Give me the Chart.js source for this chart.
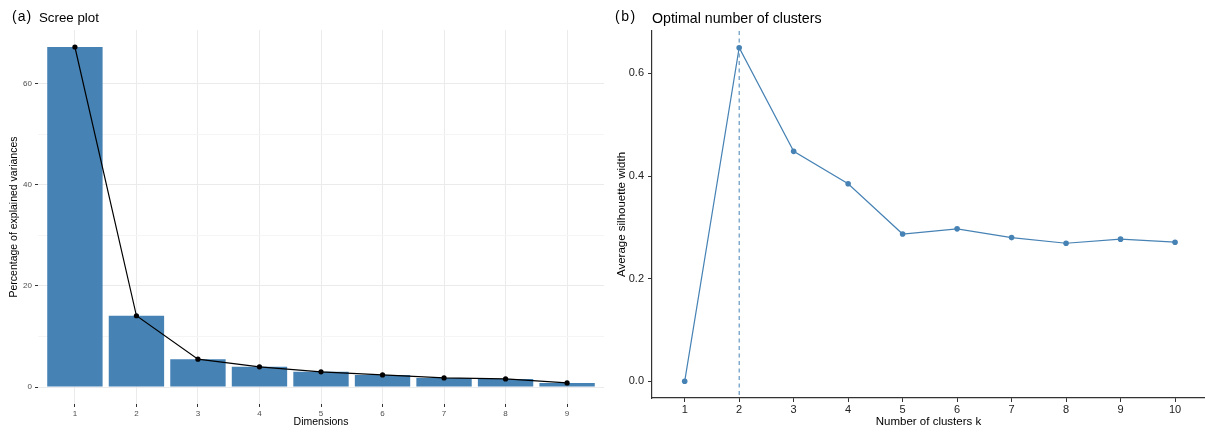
<!DOCTYPE html>
<html lang="en">
<head>
  <meta charset="UTF-8" />
  <title>Scree plot / Optimal number of clusters</title>
  <script src="https://cdn.jsdelivr.net/npm/chart.js"></script>
  <style>
    body { margin:0; background:#fff; font-family:"Liberation Sans", Arial, sans-serif; }
    #wrap { position:relative; width:1205px; height:432px; overflow:hidden; }
    canvas { position:absolute; top:0; }
    #scree { left:0; }
    #silh { left:605px; }
    .lab { position:absolute; color:#000; white-space:nowrap; line-height:1; }
  </style>
</head>
<body>
  <div id="wrap">
    <canvas id="scree" width="605" height="432"></canvas>
    <canvas id="silh" width="600" height="432"></canvas>
    <span class="lab" style="left:12px;top:9px;font-size:14px;letter-spacing:1px">(a)</span>
    <span class="lab" style="left:39px;top:10.5px;font-size:13.3px">Scree plot</span>
    <span class="lab" style="left:615px;top:9px;font-size:14px;letter-spacing:1.5px">(b)</span>
    <span class="lab" style="left:652px;top:11px;font-size:14.2px">Optimal number of clusters</span>
  </div>

  <script>
    // (a) scree plot: % of explained variance per dimension
    const dims = [1, 2, 3, 4, 5, 6, 7, 8, 9];
    const explainedVar = [67.3, 14.1, 5.5, 4.0, 3.0, 2.4, 1.8, 1.6, 0.8];
    const screeTicks = [0, 20, 40, 60];
    const screeMinor = [10, 30, 50];

    // (b) average silhouette width for k clusters
    const kValues = [1, 2, 3, 4, 5, 6, 7, 8, 9, 10];
    const silhouette = [0, 0.650, 0.448, 0.385, 0.287, 0.297, 0.280, 0.269, 0.277, 0.271];
    const silhTicks = [0, 0.2, 0.4, 0.6];
    const bestK = 2;

    Chart.defaults.font.family = "'Liberation Sans', Arial, sans-serif";
    const STEEL = "#4682B4";

    // ggplot style 5% expansion of the y range
    const expand = (arr) => {
      const hi = Math.max(...arr), lo = Math.min(0, ...arr);
      return { min: lo - (hi - lo) * 0.05, max: hi + (hi - lo) * 0.05 };
    };
    const setTicks = (vals) => (s) => { s.ticks = vals.map(v => ({ value: v })); };
    // fixed axis size, and no extra room for overhanging labels
    const fitH = (h) => (s) => { s.height = h; s.paddingLeft = 0; s.paddingRight = 0; };
    const fitW = (w) => (s) => { s.width = w; s.paddingTop = 0; s.paddingBottom = 0; };

    // ---- (a) ----
    const screePts = dims.map((d, i) => ({ x: d, y: explainedVar[i] }));
    const rangeA = expand(explainedVar);
    const isMajorA = (ctx) => ctx.tick && screeTicks.includes(ctx.tick.value);

    new Chart(document.getElementById("scree"), {
      type: "bar",
      data: {
        datasets: [
          { type: "line", data: screePts, borderColor: "#000", borderWidth: 1.2,
            pointRadius: 2.6, pointBorderWidth: 0, pointBackgroundColor: "#000", order: 1 },
          { type: "bar", data: screePts, backgroundColor: STEEL,
            barPercentage: 0.9, categoryPercentage: 1, order: 2 }
        ]
      },
      options: {
        responsive: false,
        animation: false,
        layout: { autoPadding: false, padding: { top: 30, right: 1 } },
        plugins: { legend: { display: false }, tooltip: { enabled: false } },
        scales: {
          x: {
            type: "linear", min: 0.4, max: 9.6, offset: false,
            afterBuildTicks: setTicks(dims),
            afterFit: fitH(28),
            grid: { offset: false, color: "#EBEBEB", tickColor: "#333", tickLength: 3 },
            border: { display: false },
            ticks: { color: "#4D4D4D", font: { size: 8 }, padding: 2, autoSkip: false, maxRotation: 0 },
            title: { display: true, text: "Dimensions", color: "#000", font: { size: 10.5 }, padding: { top: 0, bottom: 4 } }
          },
          y: {
            min: rangeA.min, max: rangeA.max,
            afterBuildTicks: setTicks([...screeTicks, ...screeMinor].sort((a, b) => a - b)),
            afterFit: fitW(38),
            grid: {
              color: (ctx) => isMajorA(ctx) ? "#EBEBEB" : "#F5F5F5",
              tickColor: (ctx) => isMajorA(ctx) ? "#333" : "rgba(0,0,0,0)",
              tickLength: 3
            },
            border: { display: false },
            ticks: { color: "#4D4D4D", font: { size: 8 }, padding: 3, autoSkip: false,
                     callback: (v) => screeTicks.includes(v) ? v : "" },
            title: { display: true, text: "Percentage of explained variances", color: "#000",
                     font: { size: 10.5 }, padding: { top: 8, bottom: 0 } }
          }
        }
      }
    });

    // ---- (b) ----
    const rangeB = expand(silhouette);
    const bestLine = {
      id: "bestLine",
      beforeDatasetsDraw(chart) {
        const { ctx, chartArea } = chart;
        const x = chart.scales.x.getPixelForValue(bestK);
        ctx.save();
        ctx.strokeStyle = STEEL;
        ctx.lineWidth = 1;
        ctx.setLineDash([4, 3.5]);
        ctx.beginPath();
        ctx.moveTo(x, chartArea.top);
        ctx.lineTo(x, chartArea.bottom);
        ctx.stroke();
        ctx.restore();
      }
    };

    new Chart(document.getElementById("silh"), {
      type: "line",
      data: {
        datasets: [{
          data: kValues.map((k, i) => ({ x: k, y: silhouette[i] })),
          borderColor: STEEL, backgroundColor: STEEL, borderWidth: 1.2,
          pointRadius: 2.8, pointBorderWidth: 0, pointBackgroundColor: STEEL
        }]
      },
      options: {
        responsive: false,
        animation: false,
        layout: { autoPadding: false, padding: { top: 31, right: 0 } },
        plugins: { legend: { display: false }, tooltip: { enabled: false } },
        scales: {
          x: {
            type: "linear", min: 0.4, max: 10.55,
            afterBuildTicks: setTicks(kValues),
            afterFit: fitH(34),
            grid: { drawOnChartArea: false, tickColor: "#333", tickLength: 4 },
            border: { color: "#333", width: 1.2 },
            ticks: { color: "#222", font: { size: 11 }, padding: 1, autoSkip: false, maxRotation: 0 },
            title: { display: true, text: "Number of clusters k", color: "#000", font: { size: 11.5 }, padding: { top: 0, bottom: 3 } }
          },
          y: {
            min: rangeB.min, max: rangeB.max,
            afterBuildTicks: setTicks(silhTicks),
            afterFit: fitW(47),
            grid: { drawOnChartArea: false, tickColor: "#333", tickLength: 4 },
            border: { color: "#333", width: 1.2 },
            ticks: { color: "#222", font: { size: 11 }, padding: 4, autoSkip: false,
                     callback: (v) => v.toFixed(1) },
            title: { display: true, text: "Average silhouette width", color: "#000",
                     font: { size: 11.5 }, padding: { top: 9.5, bottom: 0 } }
          }
        }
      },
      plugins: [bestLine]
    });
  </script>
</body>
</html>
